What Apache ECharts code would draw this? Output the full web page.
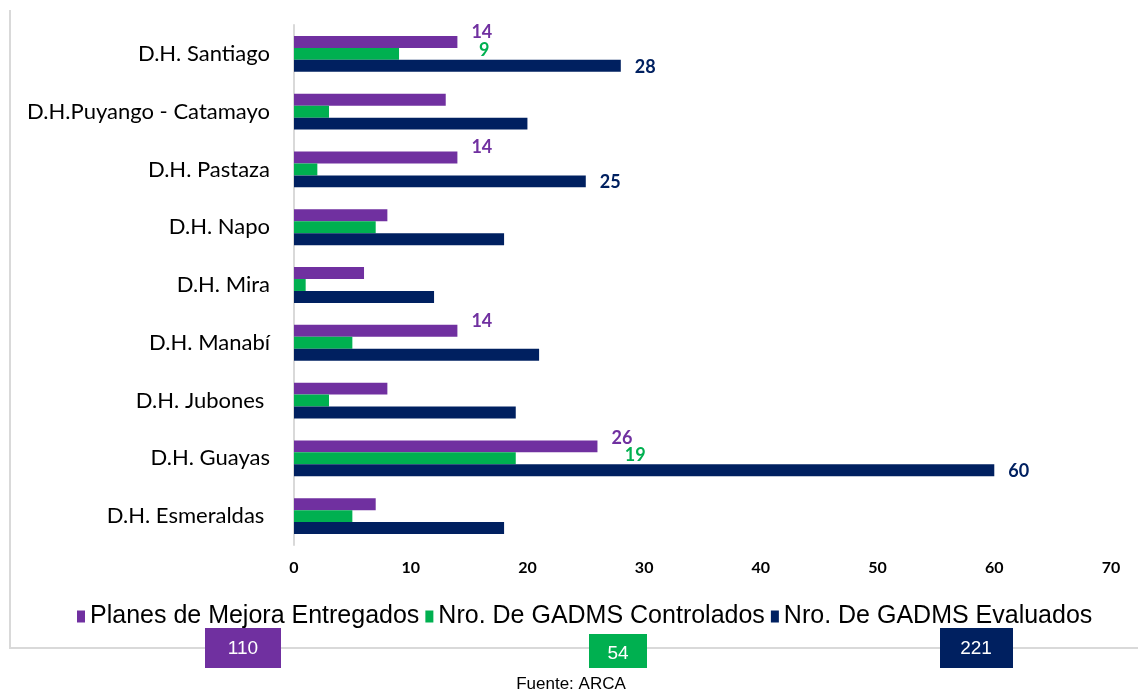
<!DOCTYPE html>
<html>
<head>
<meta charset="utf-8">
<script src="https://cdn.jsdelivr.net/npm/echarts@6/dist/echarts.min.js"></script>
<style>
  html, body { margin: 0; padding: 0; background: #fff; }
  #main { width: 1138px; height: 694px; }
</style>
</head>
<body>
<div id="main"></div>
<script>
// categorias (de abajo hacia arriba)
var demarcaciones = ['D.H. Esmeraldas ', 'D.H. Guayas', 'D.H. Jubones ', 'D.H. Manabí', 'D.H. Mira',
  'D.H. Napo', 'D.H. Pastaza', 'D.H.Puyango - Catamayo', 'D.H. Santiago'];
var planes = [7, 26, 8, 14, 6, 8, 14, 13, 14];
var controlados = [5, 19, 3, 5, 1, 7, 2, 3, 9];
var evaluados = [18, 60, 19, 21, 12, 18, 25, 20, 28];
var xTicks = [0, 10, 20, 30, 40, 50, 60, 70];
var totales = [110, 54, 221];
var nombres = ['Planes de Mejora Entregados', 'Nro. De GADMS Controlados', 'Nro. De GADMS Evaluados'];
var colores = ['#7030a0', '#00b050', '#002060'];

// que etiquetas se muestran (indice de categoria)
var etiqPlanes = [1, 3, 6, 8];
var etiqControl = [1, 8];
var etiqEval = [1, 6, 8];

function armar(valores, mostrar, color, offsets) {
  return valores.map(function (v, i) {
    var idx = mostrar.indexOf(i);
    if (idx < 0) return v;
    return {
      value: v,
      label: {
        show: true,
        position: 'right',
        distance: 14,
        offset: offsets ? offsets[idx] : [0, 1],
        color: color,
        fontFamily: 'Lato',
        fontWeight: 'bold',
        fontSize: 18
      }
    };
  });
}

var myChart = echarts.init(document.getElementById('main'));
myChart.setOption({
  animation: false,
  textStyle: { fontFamily: 'Lato' },
  grid: { left: 294, right: 27, top: 25, bottom: 149 },
  legend: {
    data: nombres,
    top: 599,
    left: 72,
    itemWidth: 8,
    itemHeight: 12,
    itemGap: 6,
    icon: 'rect',
    textStyle: { fontFamily: 'Liberation Sans', fontSize: 25, color: '#000', padding: [0, 0, 0, 0] }
  },
  xAxis: {
    type: 'value',
    min: 0,
    max: 70,
    interval: 10,
    splitLine: { show: false },
    axisLine: { show: false },
    axisTick: { show: false },
    axisLabel: { color: '#000', fontWeight: 'bold', fontSize: 16, margin: 15,
      formatter: function (v) { return xTicks.indexOf(v) >= 0 ? v : ''; } }
  },
  yAxis: {
    type: 'category',
    data: demarcaciones,
    axisLine: { lineStyle: { color: '#d9d9d9', width: 2 } },
    axisTick: { show: false },
    axisLabel: { color: '#000', fontSize: 22, margin: 24 }
  },
  series: [
    { name: nombres[0], type: 'bar', data: armar(planes, etiqPlanes, colores[0], [[0, -8], [0, -10], [0, -10], [0, -10]]),
      itemStyle: { color: colores[0] }, barGap: '0%', barCategoryGap: '38%' },
    { name: nombres[1], type: 'bar', data: armar(controlados, etiqControl, colores[1], [[95, -3], [66, -4]]),
      itemStyle: { color: colores[1] }, barGap: '0%', barCategoryGap: '38%' },
    { name: nombres[2], type: 'bar', data: armar(evaluados, etiqEval, colores[2]),
      itemStyle: { color: colores[2] }, barGap: '0%', barCategoryGap: '38%' }
  ],
  graphic: [
    { type: 'polyline', silent: true, z: 0,
      shape: { points: [[10, 10], [10, 648], [1138, 648]] },
      style: { stroke: '#d9d9d9', lineWidth: 2, fill: null } },
    { type: 'rect', x: 205, y: 628, shape: { width: 76, height: 40 }, style: { fill: colores[0] } },
    { type: 'text', x: 243, y: 649,
      style: { text: String(totales[0]), fill: '#fff', font: '19px "Liberation Sans"', align: 'center', verticalAlign: 'middle' } },
    { type: 'rect', x: 589, y: 634, shape: { width: 58, height: 34 }, style: { fill: colores[1] } },
    { type: 'text', x: 618, y: 654,
      style: { text: String(totales[1]), fill: '#fff', font: '19px "Liberation Sans"', align: 'center', verticalAlign: 'middle' } },
    { type: 'rect', x: 940, y: 628, shape: { width: 73, height: 40 }, style: { fill: colores[2] } },
    { type: 'text', x: 976, y: 649,
      style: { text: String(totales[2]), fill: '#fff', font: '19px "Liberation Sans"', align: 'center', verticalAlign: 'middle' } },
    { type: 'text', x: 571, y: 684,
      style: { text: 'Fuente: ARCA', fill: '#000', font: '17px "Liberation Sans"', align: 'center', verticalAlign: 'middle' } }
  ]
});
</script>
</body>
</html>
